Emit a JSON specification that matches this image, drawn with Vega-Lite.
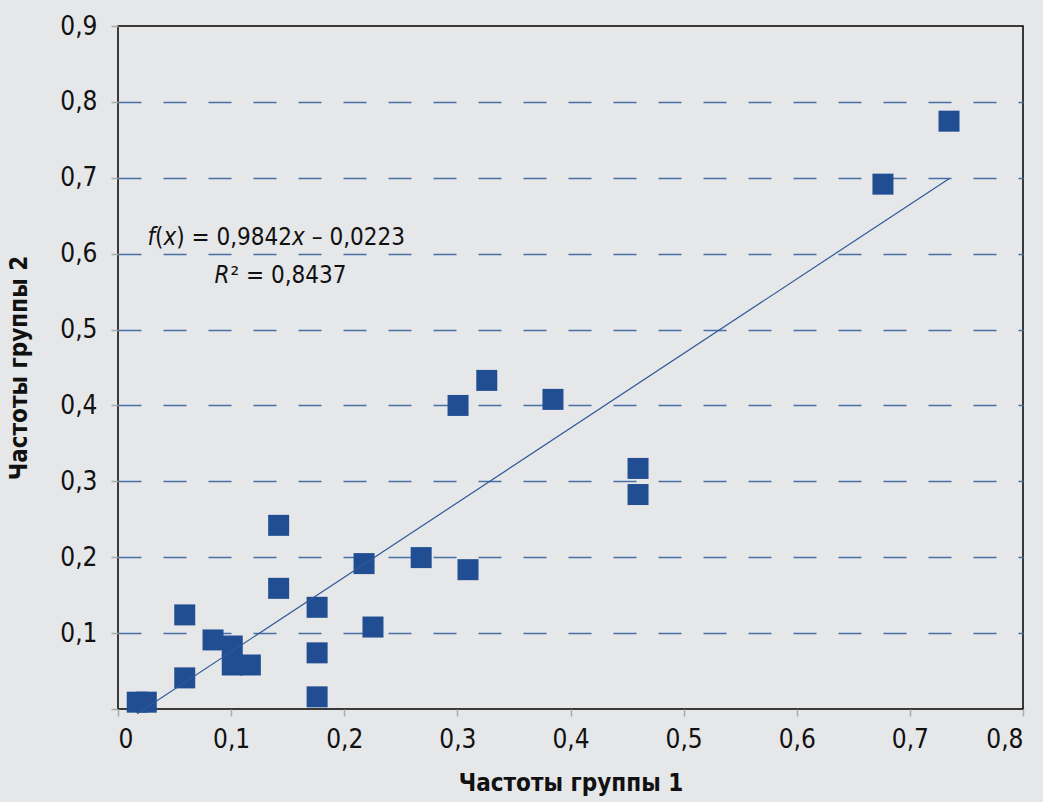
{
  "$schema": "https://vega.github.io/schema/vega-lite/v6.json",
  "width": 905,
  "height": 683,
  "autosize": {"type": "none"},
  "padding": {"left": 118, "top": 26, "right": 20, "bottom": 93},
  "background": "#e6e7e9",
  "config": {
    "view": {"stroke": "#000000", "strokeWidth": 1.5, "fill": null},
    "font": "DejaVu Sans Condensed",
    "axis": {
      "labelFont": "DejaVu Sans Condensed",
      "titleFont": "DejaVu Sans Condensed",
      "labelFontSize": 26,
      "labelColor": "#111111",
      "titleFontSize": 24,
      "titleFontWeight": "bold",
      "titleColor": "#111111",
      "domain": false,
      "tickColor": "#aaaaaa",
      "tickSize": 7,
      "tickWidth": 1.5
    }
  },
  "datasets": {
    "points": [
      {"g1": 0.017, "g2": 0.009},
      {"g1": 0.025, "g2": 0.009},
      {"g1": 0.059, "g2": 0.124},
      {"g1": 0.059, "g2": 0.041},
      {"g1": 0.084, "g2": 0.091},
      {"g1": 0.101, "g2": 0.083},
      {"g1": 0.101, "g2": 0.058},
      {"g1": 0.117, "g2": 0.058},
      {"g1": 0.142, "g2": 0.159},
      {"g1": 0.142, "g2": 0.242},
      {"g1": 0.176, "g2": 0.134},
      {"g1": 0.176, "g2": 0.074},
      {"g1": 0.176, "g2": 0.016},
      {"g1": 0.2175, "g2": 0.1916},
      {"g1": 0.2254, "g2": 0.108},
      {"g1": 0.268, "g2": 0.1995},
      {"g1": 0.3094, "g2": 0.1836},
      {"g1": 0.3006, "g2": 0.4},
      {"g1": 0.326, "g2": 0.433},
      {"g1": 0.3845, "g2": 0.408},
      {"g1": 0.4597, "g2": 0.317},
      {"g1": 0.4597, "g2": 0.2826},
      {"g1": 0.6762, "g2": 0.6916},
      {"g1": 0.7346, "g2": 0.7746}
    ],
    "italicText": [
      {"t": "f", "x": 0.0261, "y": 0.6117},
      {"t": "x", "x": 0.0402, "y": 0.6117},
      {"t": "x", "x": 0.1539, "y": 0.6117},
      {"t": "R", "x": 0.0853, "y": 0.5612}
    ],
    "plainText": [
      {"t": "(", "x": 0.0328, "y": 0.6117},
      {"t": ") = 0,9842", "x": 0.0515, "y": 0.6117},
      {"t": "– 0,0223", "x": 0.1713, "y": 0.6117},
      {"t": "² = 0,8437", "x": 0.0995, "y": 0.5612}
    ]
  },
  "layer": [
    {
      "data": {"name": "points"},
      "mark": {"type": "point", "shape": "square", "filled": true, "size": 441, "color": "#214e92", "opacity": 1, "strokeWidth": 0},
      "encoding": {
        "x": {
          "field": "g1", "type": "quantitative",
          "scale": {"domain": [0, 0.8], "nice": false},
          "axis": {
            "values": [0, 0.1, 0.2, 0.3, 0.4, 0.5, 0.6, 0.7, 0.8],
            "grid": false,
            "labelPadding": 10,
            "labelExpr": "datum.value == 0 ? '0' : replace(format(datum.value, '.1f'), '.', ',')",
            "title": "Частоты группы 1",
            "titlePadding": 19
          }
        },
        "y": {
          "field": "g2", "type": "quantitative",
          "scale": {"domain": [0, 0.9], "nice": false},
          "axis": {
            "values": [0, 0.1, 0.2, 0.3, 0.4, 0.5, 0.6, 0.7, 0.8, 0.9],
            "grid": true,
            "gridColor": "#4a6fa8",
            "gridWidth": 1.5,
            "gridDash": [23, 22],
            "gridOpacity": {"condition": {"test": "datum.value == 0 || datum.value > 0.85", "value": 0}, "value": 1},
            "labelPadding": 14,
            "labelExpr": "datum.value == 0 ? '' : replace(format(datum.value, '.1f'), '.', ',')",
            "title": "Частоты группы 2",
            "titlePadding": 28
          }
        }
      }
    },
    {
      "data": {"name": "points"},
      "transform": [{"regression": "g2", "on": "g1"}],
      "mark": {"type": "line", "color": "#2f5a98", "strokeWidth": 1.2},
      "encoding": {
        "x": {"field": "g1", "type": "quantitative"},
        "y": {"field": "g2", "type": "quantitative"}
      }
    },
    {
      "data": {"name": "italicText"},
      "mark": {"type": "text", "align": "left", "baseline": "alphabetic", "fontSize": 24, "fontStyle": "italic", "color": "#111111", "font": "DejaVu Sans Condensed"},
      "encoding": {
        "x": {"field": "x", "type": "quantitative"},
        "y": {"field": "y", "type": "quantitative"},
        "text": {"field": "t"}
      }
    },
    {
      "data": {"name": "plainText"},
      "mark": {"type": "text", "align": "left", "baseline": "alphabetic", "fontSize": 24, "color": "#111111", "font": "DejaVu Sans Condensed"},
      "encoding": {
        "x": {"field": "x", "type": "quantitative"},
        "y": {"field": "y", "type": "quantitative"},
        "text": {"field": "t"}
      }
    }
  ]
}
